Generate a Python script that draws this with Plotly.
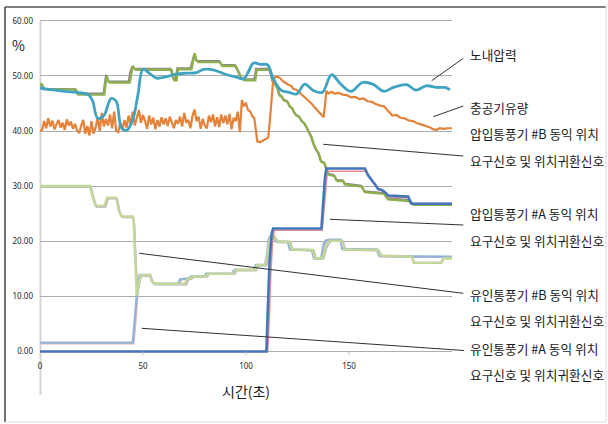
import plotly.graph_objects as go

# ---------------- data ----------------
x_tick_vals = [0, 50, 100, 150]
x_tick_text = ["0", "50", "100", "150"]
y_tick_vals = [0, 10, 20, 30, 40, 50, 60]

# 노내압력 (furnace pressure)
pres_t = [0, 5, 10, 15, 20, 23.5, 25.5, 28, 31, 34.5, 37, 39.5, 42, 45, 47.5, 50, 53, 56.5, 61, 66, 71, 76,
          79.5, 84, 90, 95, 99, 101, 103.5, 107, 110.5, 113, 117, 121, 124.5, 128.5, 132.5, 137, 141.5, 146,
          151, 156.5, 161.5, 167, 171.5, 178, 182.5, 187.5, 192.5, 196.5, 199]
pres_v = [47.8, 47.5, 47.3, 47.1, 46.9, 46.6, 45.5, 42.3, 42.8, 45.9, 45.4, 40.6, 40.1, 42.0, 46.5, 51.2, 50.5,
          49.6, 49.8, 50.3, 50.5, 50.6, 51.2, 51.1, 50.3, 49.8, 49.5, 50.6, 52.3, 52.1, 52.0, 49.7, 47.4, 47.0,
          46.7, 48.5, 47.4, 47.0, 50.2, 48.5, 47.2, 48.8, 48.5, 47.2, 47.9, 48.4, 47.4, 48.2, 47.9, 47.9, 47.5]

# 충공기유량 (total air flow)
air_t = list(range(0, 100)) + [100, 101, 102, 103, 104, 104.8, 105.5, 107, 108.5, 110, 110.8, 111.6, 112.4,
                               113.2, 114, 115, 116.5, 118, 119, 120.5, 122, 123, 124.5, 126, 127.5, 129,
                               130.5, 132, 133.5, 135, 136.5, 137.7, 138.3, 139, 140, 141.5, 143, 145, 147,
                               149, 151, 153, 155, 157, 159, 161, 163, 165, 167, 169, 171, 173, 175, 177, 179,
                               181, 183, 185, 187, 189, 191, 192.5, 194, 196, 198, 200]
air_v = [40.0, 40.2, 41.8, 40.5, 42.3, 40.8, 41.9, 40.3, 41.2, 42.0, 40.6,
         41.5, 40.2, 42.1, 41.0, 41.7, 40.4, 41.3, 40.1, 39.6, 41.0,
         42.0, 39.5, 40.9, 39.2, 41.8, 39.5, 40.6, 42.5, 40.0, 43.3,
         40.8, 42.2, 41.0, 43.0, 40.5, 43.5, 40.0, 39.8, 41.5, 40.2,
         42.0, 40.6, 42.8, 41.2, 43.5, 41.0, 42.6, 43.8, 41.5, 42.9,
         41.8, 40.4, 42.8, 41.2, 42.4, 40.3, 42.0, 40.8, 42.5, 41.2,
         42.3, 40.9, 42.6, 41.6, 40.5, 42.0, 41.3, 42.6, 40.8, 43.3,
         41.5, 42.0, 40.5, 42.7, 43.9, 41.8, 42.6, 40.4, 42.2, 41.0,
         40.5, 42.8, 41.6, 43.0, 40.8, 42.5, 40.7, 43.0, 41.4, 42.8,
         41.2, 43.1, 40.3, 42.4, 41.8, 43.5, 39.8, 45.6, 44.6,
         45.0, 43.8, 43.6, 42.7, 42.4, 40.0, 38.1, 38.0, 38.3, 38.5, 38.8, 42.0, 46.0,
         49.2, 49.7, 49.9, 49.6, 49.0, 48.8, 48.4, 48.2, 47.6, 47.5, 47.0, 46.5, 46.0,
         45.4, 44.9, 44.2, 43.6, 43.0, 42.5, 44.5, 47.3, 46.8, 47.1, 46.8, 46.9, 46.6,
         46.5, 46.1, 46.2, 45.8, 45.9, 45.4, 45.3, 44.9, 44.6, 44.5, 43.7, 42.8, 42.9, 42.4, 42.3,
         41.9, 41.8, 41.4, 41.2, 41.0, 40.7, 40.3, 40.2, 40.5, 40.4, 40.5, 40.5]
air_v = air_v[:100] + air_v[99:] if len(air_v) != len(air_t) else air_v

# 압입통풍기 #B 동익 위치 요구신호 (FDF B demand) / 위치귀환신호 (feedback)
fdfb_dem_t = [0, 1, 2, 17.5, 18.5, 31.2, 31.8, 32.4, 33.2, 34, 43.5, 44.3, 45, 45.8, 46.6, 63.8, 64.5, 65.2,
              66.3, 67, 73.5, 74.3, 75.1, 75.9, 76.8, 87.5, 88.5, 95, 96.5, 98, 99.4, 104.5, 105.2, 111.5,
              112.3, 113, 114, 114.8, 115.5, 116.4, 117.5, 118.3, 120.4, 121.3, 122.5, 123.5, 124.5, 126, 127,
              128.5, 129.5, 130.5, 131.8, 133, 134.2, 135.2, 136.6, 138.2, 139.2, 139.9, 143.1, 144, 144.7,
              147.3, 148, 156.3, 157.7, 167, 169, 179, 181.5, 200]
fdfb_dem_v = [48.6, 48.4, 47.6, 47.5, 46.6, 46.6, 48.5, 50.0, 49.0, 48.8, 48.8, 50.5, 51.8, 51.3, 51.1, 51.1,
              50.0, 49.2, 49.2, 51.2, 51.2, 52.5, 54.1, 52.8, 52.5, 52.5, 51.8, 51.8, 50.5, 49.5, 49.2, 49.2,
              51.1, 51.1, 50.3, 49.0, 48.6, 47.9, 47.6, 46.4, 46.2, 45.6, 45.2, 44.4, 44.1, 43.3, 42.8, 42.5,
              41.8, 41.3, 40.5, 39.8, 38.9, 37.5, 36.5, 36.0, 34.4, 34.1, 32.8, 32.1, 31.8, 31.0, 30.9, 30.9,
              30.3, 29.9, 28.9, 28.6, 27.6, 27.3, 26.6, 26.6]
fdfb_fb_t = [0, 0.8, 1.6, 17.0, 18.0, 30.8, 31.4, 32.0, 32.8, 33.6, 43.0, 43.8, 44.6, 45.4, 46.2, 63.3, 64.0,
             64.8, 65.8, 66.6, 73.0, 73.8, 74.7, 75.5, 76.3, 87.0, 88.0, 94.5, 96.0, 97.5, 99.0, 104.0, 104.8,
             111.0, 111.8, 112.6, 113.6, 114.4, 115.1, 116.0, 117.1, 117.9, 120.0, 120.9, 122.1, 123.1, 124.1,
             125.6, 126.6, 128.1, 129.1, 130.1, 131.4, 132.6, 133.8, 134.8, 136.2, 137.8, 138.8, 139.5, 142.7,
             143.6, 144.3, 146.9, 147.6, 155.9, 157.3, 166.6, 168.6, 178.6, 181.1, 200]
fdfb_fb_v = [48.4, 48.2, 47.7, 47.6, 46.8, 46.8, 48.6, 50.2, 49.2, 49.0, 49.0, 50.7, 51.6, 51.5, 51.3, 51.3,
             50.2, 49.4, 49.4, 51.4, 51.4, 52.7, 53.8, 53.0, 52.7, 52.7, 52.0, 52.0, 50.7, 49.7, 49.4, 49.4,
             51.3, 51.3, 50.5, 49.2, 48.8, 48.1, 47.8, 46.6, 46.4, 45.8, 45.4, 44.6, 44.3, 43.5, 43.0, 42.7,
             42.0, 41.5, 40.7, 40.0, 39.1, 37.7, 36.7, 36.2, 34.6, 34.3, 33.0, 32.3, 32.0, 31.2, 31.1, 31.1,
             30.5, 30.1, 29.1, 28.8, 27.8, 27.5, 26.8, 26.8]

# 압입통풍기 #A 동익 위치 요구신호 / 위치귀환신호
fdfa_dem_t = [0, 109.9, 110.6, 111.4, 112.5, 113.2, 136.6, 137.5, 138.3, 139, 157.7, 158.5, 159.2, 160.4,
              161.6, 163, 164.1, 166, 167.4, 168.2, 169, 178.7, 179.5, 180.3, 200]
fdfa_dem_v = [0, 0, 8, 16, 21.5, 22.3, 22.3, 27, 31.5, 33.2, 33.2, 32.6, 32.0, 31.4, 30.7, 30.1, 29.5, 29.3,
              28.9, 28.6, 28.3, 28.1, 27.4, 26.8, 26.8]
fdfa_fb_t = [0, 110.5, 111.3, 112, 113, 113.8, 137, 137.9, 138.8, 139.5, 158, 159, 160, 161, 162.2, 163.5,
             164.6, 166.5, 167.8, 168.6, 169.5, 179, 180, 180.8, 200]
fdfa_fb_v = [0, 0, 6, 14, 20.5, 22.0, 22.0, 26, 30.5, 32.7, 32.7, 32.3, 31.6, 31.1, 30.4, 29.9, 29.3, 29.1,
             28.8, 28.4, 28.1, 27.9, 27.2, 26.7, 26.7]

# 유인통풍기 #B 동익 위치 요구신호 / 위치귀환신호
idfb_dem_t = [0, 24.3, 25.5, 27, 31.3, 32.6, 37.0, 38.3, 39.6, 45, 45.5, 46.0, 46.6, 47.0, 47.8, 48.8, 53.4,
              54.4, 55.5, 70.5, 71.5, 73.2, 74, 80.5, 81.5, 94, 95, 104.5, 105.5, 109.5, 110.5, 111.3, 112.3,
              113.2, 114.2, 115.6, 121.2, 122.2, 132.5, 133.6, 137.2, 138.5, 139.6, 141, 146.6, 147.8, 164.1,
              165.5, 180.5, 181.5, 194.8, 196.0, 200]
idfb_dem_v = [30.0, 30.0, 28.2, 26.4, 26.4, 27.9, 27.9, 25.5, 24.5, 24.5, 23.5, 19.0, 11.5, 10.2, 12.0, 13.8,
              13.9, 12.8, 12.3, 12.3, 13.2, 13.3, 13.6, 13.6, 14.1, 14.1, 14.8, 14.8, 15.7, 15.7, 17.5, 20.0,
              20.7, 21.1, 20.5, 19.9, 19.9, 18.5, 18.4, 16.9, 16.9, 18.8, 19.6, 20.1, 20.1, 18.5, 18.4, 17.4,
              17.2, 16.1, 16.1, 16.9, 16.9]
idfb_fb_t = [0, 24.8, 26.0, 27.5, 31.8, 33.1, 37.5, 38.8, 40.1, 45.3, 45.8, 46.3, 46.9, 47.3, 48.1, 49.1, 53.8,
             54.8, 55.9, 71.0, 72.0, 73.7, 74.5, 81.0, 82.0, 94.5, 95.5, 105.0, 106.0, 110.0, 111.0, 111.8,
             112.8, 113.7, 114.7, 116.1, 121.7, 122.7, 133.0, 134.1, 137.7, 139.0, 140.1, 141.5, 147.1, 148.3,
             164.6, 166.0, 200]
idfb_fb_v = [29.8, 29.8, 28.0, 26.2, 26.2, 27.7, 27.7, 25.3, 24.3, 24.3, 23.3, 19.0, 11.5, 10.4, 12.0, 13.7,
             13.7, 12.6, 12.1, 12.1, 13.0, 13.2, 13.5, 13.5, 14.0, 14.0, 14.7, 14.7, 15.6, 15.6, 17.4, 19.8,
             20.6, 21.0, 20.4, 19.8, 19.8, 18.4, 18.3, 16.8, 16.8, 18.7, 19.5, 20.0, 20.0, 18.4, 18.3, 17.3,
             17.1]

# 유인통풍기 #A 동익 위치 요구신호 / 위치귀환신호
idfa_dem_t = [0, 45.0, 45.6, 46.6, 47.5, 48.4, 53.2, 54.3, 55.3, 67.2, 68.0, 72.5, 73.2, 79.8, 80.6, 93.3, 94.3,
              103.8, 104.8, 109.3, 110.3, 111, 112, 113, 113.8, 115, 120.3, 121.3, 132, 133, 136.5, 137.6,
              138.6, 140.5, 145.8, 146.8, 163.5, 164.8, 200]
idfa_dem_v = [1.6, 1.6, 4.0, 9.0, 12.5, 13.9, 13.9, 12.8, 12.3, 12.3, 13.1, 13.3, 13.6, 13.6, 14.1, 14.1, 14.8,
              14.8, 15.7, 15.7, 17.8, 20.3, 21.0, 21.2, 20.4, 19.9, 19.9, 18.5, 18.4, 16.9, 16.9, 19.3, 20.1,
              20.3, 20.3, 18.6, 18.5, 17.3, 17.2]
idfa_fb_t = [0, 45.5, 46.2, 47.1, 48.0, 48.9, 53.8, 54.8, 55.8, 67.8, 68.6, 73.0, 73.8, 80.4, 81.2, 93.9, 94.9,
             104.4, 105.4, 109.9, 110.9, 111.6, 112.6, 113.6, 114.4, 115.6, 120.9, 121.9, 132.6, 133.6, 137.1,
             138.2, 139.2, 141.1, 146.4, 147.4, 164.1, 165.4, 200]
idfa_fb_v = [1.4, 1.4, 4.0, 9.0, 12.5, 13.7, 13.7, 12.6, 12.2, 12.2, 13.0, 13.2, 13.5, 13.5, 14.0, 14.0, 14.7,
             14.7, 15.6, 15.6, 17.6, 20.1, 20.8, 21.0, 20.3, 19.8, 19.8, 18.4, 18.3, 16.8, 16.8, 19.2, 20.0,
             20.2, 20.2, 18.5, 18.4, 17.2, 17.1]

labels = [
    ("노내압력", None),
    ("충공기유량", None),
    ("압입통풍기 #B 동익 위치", "요구신호 및 위치귀환신호"),
    ("압입통풍기 #A 동익 위치", "요구신호 및 위치귀환신호"),
    ("유인통풍기 #B 동익 위치", "요구신호 및 위치귀환신호"),
    ("유인통풍기 #A 동익 위치", "요구신호 및 위치귀환신호"),
]

# ---------------- layout geometry (pixels) ----------------
W_FIG, H_FIG = 608, 424
L, R, T, B = 40, 452, 18, 357
PW, PH = R - L, B - T


def px(x):
    return (x - L) / PW


def py(y):
    return (B - y) / PH


fig = go.Figure()


def add_line(t, v, color, width, shape="linear"):
    fig.add_trace(go.Scatter(x=t, y=v, mode="lines", line=dict(color=color, width=width, shape=shape),
                             hoverinfo="skip", showlegend=False))


add_line(idfa_fb_t, idfa_fb_v, "#E6B9B8", 1.6)
add_line(idfb_fb_t, idfb_fb_v, "#B3A2C7", 1.6)
add_line(idfa_dem_t, idfa_dem_v, "#95B3D7", 2.4)
add_line(idfb_dem_t, idfb_dem_v, "#C3D69B", 2.6)
add_line(fdfa_fb_t, fdfa_fb_v, "#E0908E", 1.6)
add_line(fdfb_fb_t, fdfb_fb_v, "#8A7F96", 1.8)
add_line(fdfb_dem_t, fdfb_dem_v, "#8FAE4E", 2.4)
add_line(fdfa_dem_t, fdfa_dem_v, "#4675BA", 2.6)
add_line(air_t, air_v, "#E5823A", 2.2)
add_line(pres_t, pres_v, "#3FA3C1", 2.8, shape="spline")

shapes = []
# chart frame
shapes.append(dict(type="line", xref="paper", yref="paper", x0=px(5), x1=px(606), y0=py(7), y1=py(7),
                   line=dict(color="#808080", width=2)))
shapes.append(dict(type="line", xref="paper", yref="paper", x0=px(5), x1=px(5), y0=py(7), y1=py(422),
                   line=dict(color="#404040", width=1.5)))
shapes.append(dict(type="line", xref="paper", yref="paper", x0=px(5), x1=px(606), y0=py(422), y1=py(422),
                   line=dict(color="#DADADA", width=1)))
shapes.append(dict(type="line", xref="paper", yref="paper", x0=px(606), x1=px(606), y0=py(7), y1=py(422),
                   line=dict(color="#DADADA", width=1)))
# vertical axis line
shapes.append(dict(type="line", xref="paper", yref="paper", x0=px(40.5), x1=px(40.5), y0=py(20.7), y1=py(395),
                   line=dict(color="#D6D6D6", width=2), layer="below"))
# x tick marks
for tv in x_tick_vals[1:]:
    shapes.append(dict(type="line", xref="x", yref="paper", x0=tv, x1=tv, y0=py(351.5), y1=py(355),
                       line=dict(color="#BFBFBF", width=1)))

# leader lines (pixel endpoints)
leaders = [((431.7, 80.7), (463.3, 58.3)),
           ((433.3, 116.7), (463.3, 106)),
           ((323.3, 144.3), (463.3, 156)),
           ((330, 219.3), (463.3, 225)),
           ((139.3, 253.3), (463.3, 293.3)),
           ((141.7, 328.3), (464, 350.5))]
for (a, b) in leaders:
    shapes.append(dict(type="line", xref="paper", yref="paper", x0=px(a[0]), y0=py(a[1]), x1=px(b[0]),
                       y1=py(b[1]), line=dict(color="#303030", width=1)))

annotations = []
label_y = [(55, None), (107, None), (133, 160), (214, 240), (294, 320), (348, 374)]
FONT_KR = "Noto Sans CJK KR"
for (l1, l2), (y1, y2) in zip(labels, label_y):
    annotations.append(dict(text=l1, xref="paper", yref="paper", x=px(468), y=py(y1), xanchor="left",
                            yanchor="middle", showarrow=False, font=dict(family=FONT_KR, size=12.7, color="#1a1a1a")))
    if l2:
        annotations.append(dict(text=l2, xref="paper", yref="paper", x=px(468), y=py(y2), xanchor="left",
                                yanchor="middle", showarrow=False,
                                font=dict(family=FONT_KR, size=12.7, color="#1a1a1a")))
annotations.append(dict(text="%", xref="paper", yref="paper", x=px(18.5), y=py(44.5), xanchor="center",
                        yanchor="middle", showarrow=False, font=dict(family=FONT_KR, size=14, color="#1a1a1a")))
annotations.append(dict(text="시간(초)", xref="paper", yref="paper", x=px(246), y=py(391), xanchor="center",
                        yanchor="middle", showarrow=False, font=dict(family=FONT_KR, size=14, color="#1a1a1a")))

fig.update_layout(
    width=W_FIG, height=H_FIG,
    margin=dict(l=L, r=W_FIG - R, t=T, b=H_FIG - B, pad=0, autoexpand=False),
    paper_bgcolor="white", plot_bgcolor="white",
    showlegend=False, hovermode=False,
    shapes=shapes, annotations=annotations,
    xaxis=dict(range=[0, 200], tickvals=x_tick_vals, ticktext=x_tick_text, showgrid=False, zeroline=False,
               showline=False, ticks="", ticklabelstandoff=3, automargin=False,
               tickfont=dict(family="Noto Sans", size=8, color="#262626")),
    yaxis=dict(range=[-1, 60.5], tickvals=y_tick_vals, tickformat=".2f", showgrid=True, gridcolor="#ADADAD",
               gridwidth=1, zeroline=False, showline=False, ticks="", ticklabelstandoff=6, automargin=False,
               tickfont=dict(family="Noto Sans", size=8, color="#262626")),
)

fig.write_html("out.html", config={"displayModeBar": False},
               post_script="document.body.style.margin='0px';")
